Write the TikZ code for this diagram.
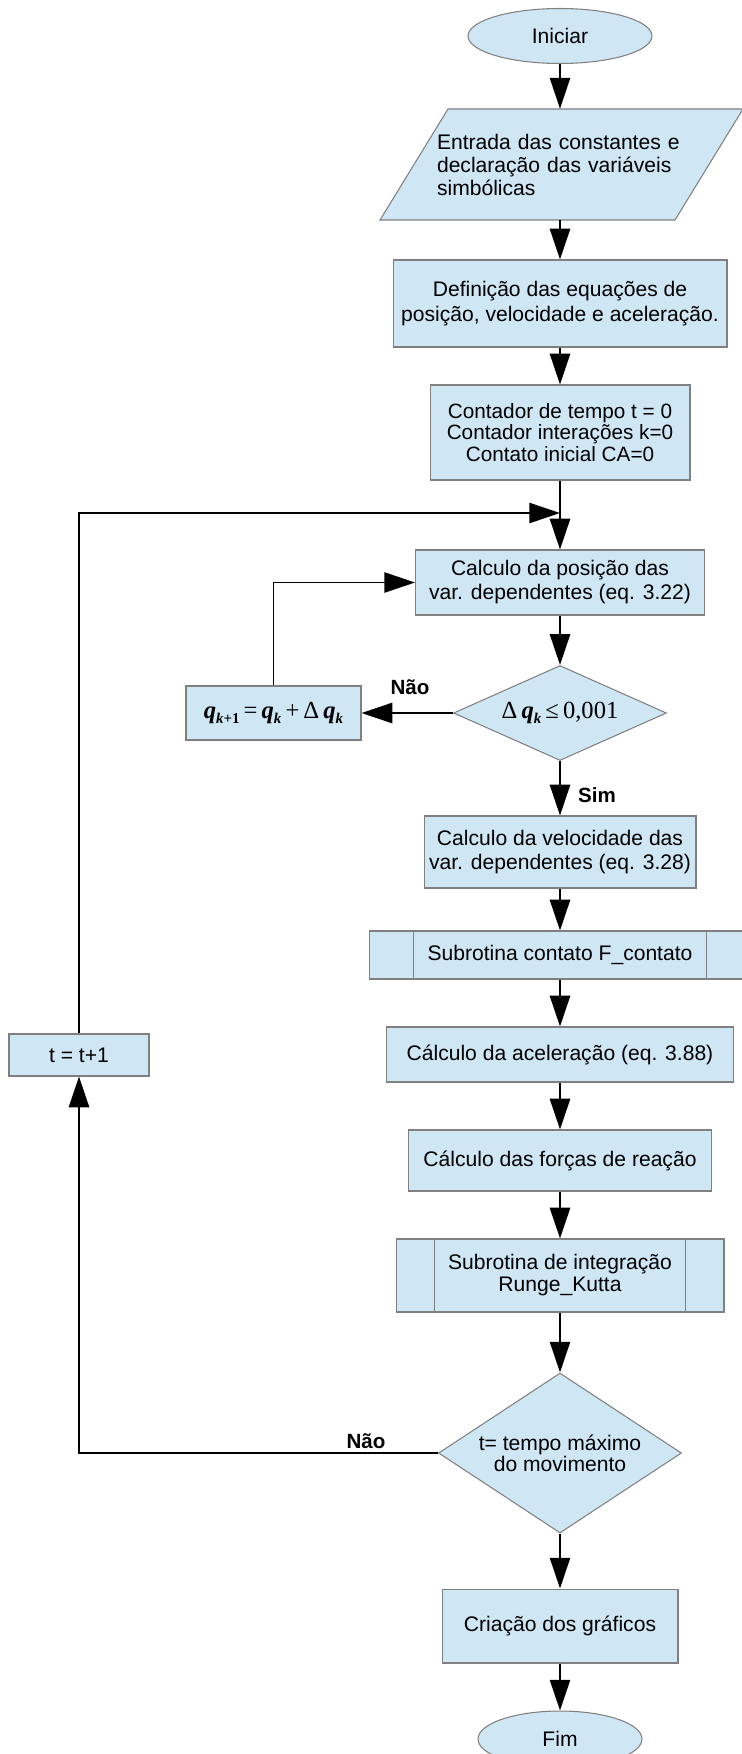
\documentclass[tikz,border=0pt]{standalone}
\usepackage{fontspec}
\setmainfont{Liberation Sans}
\newfontfamily\eqfont{Liberation Serif}
\usetikzlibrary{shapes.geometric,arrows.meta,calc}

\definecolor{caixa}{RGB}{207,231,245}
\definecolor{contorno}{RGB}{128,128,128}

\newcommand{\vq}{\textbf{\textit{q}}}
\newcommand{\ind}[1]{\raisebox{-0.45ex}{\fontsize{8.5}{8.5}\selectfont\bfseries #1}}

\tikzset{
	borda/.style={draw=contorno, line width=0.6pt, fill=caixa},
	processo/.style={borda, rectangle, inner sep=0pt, align=center},
	terminal/.style={borda, ellipse, inner sep=0pt},
	decisao/.style={borda, diamond, inner sep=0pt, align=center},
	formula/.style={font=\eqfont\fontsize{14}{16}\selectfont},
	fluxo/.style={line width=1.1pt, -{Triangle[length=17.5pt,width=11.5pt]}},
	rotulo/.style={font=\fontsize{11.7}{13}\selectfont\bfseries, inner sep=0pt}
}

\begin{document}
\begin{tikzpicture}[x=0.02cm, y=0.02cm, font=\fontsize{12}{14}\selectfont]
		% Page size
		\useasboundingbox (0,0) rectangle (742,-1754);
		% Main column
		\node[terminal, minimum width=3.68cm, minimum height=1.1cm] (iniciar) at (560,-36) {Iniciar};
		\draw[borda] (448,-109) -- (743,-109) -- (675,-220) -- (380,-220) -- cycle;
		\node[minimum height=2.22cm, text width=4.92cm, align=left, inner sep=0pt, font=\fontsize{12}{13.1}\selectfont] (entrada) at (560,-164.5) {Entrada das constantes e\\declaração das variáveis\\simbólicas};
		\node[processo, minimum width=6.68cm, minimum height=1.74cm, font=\fontsize{12}{14.2}\selectfont] (definicao) at (560,-303.5) {Definição das equações de\\posição, velocidade e aceleração.};
		\node[processo, minimum width=5.2cm, minimum height=1.9cm, font=\fontsize{11.8}{10.9}\selectfont] (contador) at (560,-432.5) {Contador de tempo t = 0\\Contador interações k=0\\Contato inicial CA=0};
		\coordinate (juncao) at (560,-513);
		\node[processo, minimum width=5.78cm, minimum height=1.3cm, font=\fontsize{12}{13.7}\selectfont] (calcpos) at (560,-582.5) {Calculo da posição das\\var. dependentes (eq. 3.22)};
		\node[decisao, aspect=2.24, minimum width=4.26cm, minimum height=1.9cm, formula] (teste1) at (560,-713) {Δ\,\vq\ind{\textit{k}}\,≤\,0,001};
		\node[processo, minimum width=5.44cm, minimum height=1.44cm, font=\fontsize{12}{13.7}\selectfont] (calcvel) at (560,-852) {Calculo da velocidade das\\var. dependentes (eq. 3.28)};
		\node[processo, minimum width=7.64cm, minimum height=0.96cm] (subcont) at (560,-955) {Subrotina contato F\_contato};
		\node[processo, minimum width=6.94cm, minimum height=1.1cm] (acel) at (560,-1054.5) {Cálculo da aceleração (eq. 3.88)};
		\node[processo, minimum width=6.06cm, minimum height=1.22cm] (forcas) at (560,-1160.5) {Cálculo das forças de reação};
		\node[processo, minimum width=6.56cm, minimum height=1.46cm, font=\fontsize{12}{12.5}\selectfont] (subint) at (560,-1275.5) {Subrotina de integração\\Runge\_Kutta};
		\node[decisao, aspect=1.52, minimum width=4.86cm, minimum height=3.2cm, font=\fontsize{12}{12}\selectfont] (teste2) at (560,-1453) {t= tempo máximo\\do movimento};
		\node[processo, minimum width=4.72cm, minimum height=1.48cm] (graficos) at (560,-1626) {Criação dos gráficos};
		\node[terminal, minimum width=3.28cm, minimum height=1.12cm] (fim) at (560,-1739) {Fim};
		% Side blocks
		\node[processo, minimum width=3.5cm, minimum height=1.08cm, formula] (novoq) at (273.5,-713) {\vq\ind{\textit{k}+1}\,=\,\vq\ind{\textit{k}}\,+\,Δ\,\vq\ind{\textit{k}}};
		\node[processo, minimum width=2.8cm, minimum height=0.84cm] (incremento) at (79,-1055) {t = t+1};
		% Subroutine bars
		\foreach \sub/\d in {subcont/45, subint/39} {
			\draw[draw=contorno, line width=0.6pt] ($(\sub.north west)+(\d,0)$) -- ($(\sub.south west)+(\d,0)$);
			\draw[draw=contorno, line width=0.6pt] ($(\sub.north east)-(\d,0)$) -- ($(\sub.south east)-(\d,0)$);
		}
		% Flow
		\draw[fluxo] (iniciar) -- (entrada);
		\draw[fluxo] (entrada) -- (definicao);
		\draw[fluxo] (definicao) -- (contador);
		\draw[fluxo] (contador) -- (calcpos);
		\draw[fluxo] (calcpos) -- (teste1);
		\draw[fluxo] (teste1) -- (novoq);
		\draw[fluxo] (novoq.north) |- (calcpos.west);
		\draw[fluxo] (teste1) -- (calcvel);
		\draw[fluxo] (calcvel) -- (subcont);
		\draw[fluxo] (subcont) -- (acel);
		\draw[fluxo] (acel) -- (forcas);
		\draw[fluxo] (forcas) -- (subint);
		\draw[fluxo] (subint) -- (teste2);
		\draw[fluxo] (teste2) -- (graficos);
		\draw[fluxo] (graficos) -- (fim);
		\draw[fluxo] (teste2.west) -| (incremento.south);
		\draw[fluxo] (incremento.north) |- (juncao);
		% Labels
		\node[rotulo] (naoA) at (410,-687) {Não};
		\node[rotulo] (sim) at (597,-795) {Sim};
		\node[rotulo] (naoB) at (366,-1441) {Não};
	\end{tikzpicture}
\end{document}
